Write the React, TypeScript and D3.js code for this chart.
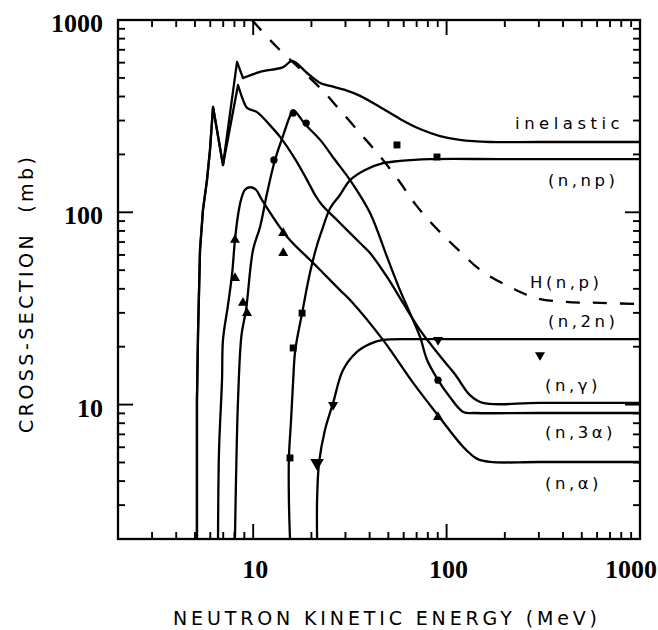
import React from "react";
import * as d3 from "d3";

type Pt = [number, number];

// ---------- data (energy MeV, cross-section mb) ----------
const majorTicks = [10, 100];
const minorTicks = [3, 4, 5, 6, 7, 8, 9, 20, 30, 40, 50, 60, 70, 80, 90, 200, 300, 400, 500, 600, 700, 800, 900];
const xTickLabels = [10, 100, 1000];
const yTickLabels = [10, 100, 1000];

const inelastic: Pt[] = [
  [5.12, 2.0], [5.12, 10.6], [5.19, 24.4], [5.31, 63.7], [5.5, 103], [5.77, 147], [5.98, 211],
  [6.2, 353], [6.98, 176], [8.25, 605], [8.86, 499], [10.85, 537], [14.3, 569], [15.9, 612],
  [19.0, 530], [22.2, 470], [25.0, 454], [29.8, 433], [35.7, 403], [45.2, 353], [57.4, 306],
  [72.9, 271], [92.5, 249], [117, 238], [168, 232], [300, 232], [1000, 232],
];

const nGamma: Pt[] = [
  [5.12, 2.0], [5.12, 10.6], [5.19, 24.4], [5.31, 63.7], [5.5, 103], [5.77, 147], [5.98, 211],
  [6.2, 353], [6.98, 176], [8.35, 459], [8.86, 384], [9.29, 349], [10.47, 332], [12.2, 284],
  [13.8, 246], [16.6, 187], [19.0, 147], [20.9, 123], [22.7, 109], [28.1, 88], [35.7, 69.2],
  [40.2, 61.4], [49.2, 46.1], [59.5, 33.8], [72.9, 24.4], [95.8, 17.1], [111, 14.3], [132, 11.2],
  [154, 10.2], [300, 10.2], [1000, 10.2],
];

const n3Alpha: Pt[] = [
  [8.05, 2.0], [8.15, 4.06], [8.35, 10.6], [8.7, 23.0], [9.18, 31.0], [9.98, 63.7], [10.85, 83.9],
  [11.8, 126], [12.96, 187], [14.3, 252], [15.5, 317], [16.1, 340], [18.5, 288], [22.2, 238],
  [26.5, 187], [31.7, 147], [40.2, 99.2], [49.2, 58.6], [57.4, 39.4], [64.7, 29.9], [72.9, 22.5],
  [79.2, 17.1], [89.2, 13.7], [104, 10.95], [122, 9.15], [140, 9.04], [300, 9.04], [1000, 9.04],
];

const nAlpha: Pt[] = [
  [6.58, 2.0], [6.66, 5.8], [6.9, 13.4], [6.98, 21.7], [7.41, 33.0], [7.77, 47.2], [8.05, 71.8],
  [8.35, 96.8], [8.65, 116], [9.07, 131], [9.63, 135], [10.34, 131], [11.1, 116], [15.0, 74.4],
  [19.7, 56.5], [22.2, 50.1], [28.1, 39.4], [31.7, 35.0], [46.9, 21.7], [67.0, 13.0], [92.5, 8.52],
  [122, 6.02], [144, 5.22], [168, 5.03], [300, 5.03], [1000, 5.03],
];

const nNp: Pt[] = [
  [15.5, 2.0], [15.3, 3.19], [15.3, 5.28], [15.7, 8.32], [16.1, 13.4], [16.5, 19.2], [17.9, 29.9],
  [19.7, 48.9], [21.4, 67.6], [22.7, 80.9], [25.0, 105], [28.1, 123], [31.7, 147], [37.9, 166],
  [46.9, 180], [57.4, 185], [82.1, 189], [200, 189], [1000, 189],
];

const n2n: Pt[] = [
  [21.4, 2.0], [21.4, 3.19], [21.9, 4.97], [23.5, 7.38], [25.9, 10.2], [29.1, 15.1], [34.4, 18.8],
  [40.2, 20.7], [46.9, 21.7], [72.9, 21.9], [200, 21.9], [1000, 21.9],
];

const hydrogenNp: Pt[] = [
  [9.86, 1000], [13.1, 732], [22.2, 443], [28.1, 340], [35.7, 258], [45.2, 196], [56.8, 145.5],
  [69.5, 109], [88.2, 82.9], [115, 63.7], [152, 49.5], [213, 40.9], [290, 35.8], [414, 34.2],
  [621, 33.8], [1000, 33.3],
];

const upTriangles: Pt[] = [[8.05, 71.8], [8.05, 45.5], [8.86, 33.8], [9.29, 29.9], [14.3, 78.0], [14.3, 61.4], [90.3, 8.62]];
const circles: Pt[] = [[12.8, 187], [16.1, 328], [18.8, 291], [90.3, 13.4]];
const squares: Pt[] = [[15.5, 5.28], [16.1, 19.7], [17.9, 29.9], [55.4, 224], [89.2, 194]];
const downTriangles: Pt[] = [[21.4, 4.97], [25.9, 9.95], [90.3, 21.7], [304, 18.1]];

const curveLabels: { text: string; at: Pt }[] = [
  { text: "inelastic", at: [226, 288] },
  { text: "(n,np)", at: [334, 147] },
  { text: "H(n,p)", at: [270, 42.9] },
  { text: "(n,2n)", at: [334, 26.9] },
  { text: "(n,\u03b3)", at: [323, 12.6] },
  { text: "(n,3\u03b1)", at: [323, 7.12] },
  { text: "(n,\u03b1)", at: [323, 3.91] },
];

// ---------- chart ----------
const W = 658;
const H = 630;
const L = 118, R = 640, T = 20, B = 539;

export default function App() {
  const x = d3.scaleLog().domain([2, 1000]).range([L, R]);
  const y = d3.scaleLog().domain([2, 1000]).range([B, T]);

  const smooth = d3.line<Pt>().x(d => x(d[0])).y(d => y(d[1])).curve(d3.curveCatmullRom.alpha(0.5));
  const lin = d3.line<Pt>().x(d => x(d[0])).y(d => y(d[1]));
  const pathFor = (pts: Pt[], sharpUntil: number) => {
    if (sharpUntil <= 0) return smooth(pts) || "";
    const a = lin(pts.slice(0, sharpUntil + 1)) || "";
    const b = (smooth(pts.slice(sharpUntil)) || "").replace(/^M/, "L");
    return a + b;
  };

  const series = [
    { data: inelastic, sharp: 10, dash: "" },
    { data: nGamma, sharp: 9, dash: "" },
    { data: n3Alpha, sharp: 0, dash: "" },
    { data: nAlpha, sharp: 0, dash: "" },
    { data: nNp, sharp: 0, dash: "" },
    { data: n2n, sharp: 0, dash: "" },
    { data: hydrogenNp, sharp: 0, dash: "14 13" },
  ];

  const triUp = d3.symbol().type(d3.symbolTriangle).size(44)() || "";
  const circ = d3.symbol().type(d3.symbolCircle).size(42)() || "";
  const sq = d3.symbol().type(d3.symbolSquare).size(48)() || "";

  const major = 15, minor = 7;
  const tickStroke = 1.9;

  return (
    <svg width={W} height={H} style={{ position: "absolute", left: 0, top: 0, background: "#fff" }}>
      <defs>
        <clipPath id="plot">
          <rect x={L} y={T} width={R - L} height={B - T} />
        </clipPath>
      </defs>
      <rect x={0} y={0} width={W} height={H} fill="#fff" />

      {/* ticks */}
      <g stroke="#000" strokeWidth={tickStroke}>
        {minorTicks.map(v => (
          <g key={"mx" + v}>
            <line x1={x(v)} x2={x(v)} y1={B} y2={B - minor} />
            <line x1={x(v)} x2={x(v)} y1={T} y2={T + minor} />
            <line x1={L} x2={L + minor} y1={y(v)} y2={y(v)} />
            <line x1={R} x2={R - minor} y1={y(v)} y2={y(v)} />
          </g>
        ))}
        {majorTicks.map(v => (
          <g key={"Mx" + v}>
            <line x1={x(v)} x2={x(v)} y1={B} y2={B - major} />
            <line x1={x(v)} x2={x(v)} y1={T} y2={T + major} />
            <line x1={L} x2={L + major} y1={y(v)} y2={y(v)} />
            <line x1={R} x2={R - major} y1={y(v)} y2={y(v)} />
          </g>
        ))}
      </g>

      {/* frame */}
      <rect x={L} y={T} width={R - L} height={B - T} fill="none" stroke="#000" strokeWidth={2.3} />

      {/* curves */}
      <g clipPath="url(#plot)" fill="none" stroke="#000" strokeWidth={2.3} strokeLinejoin="round">
        {series.map((s, i) => (
          <path key={i} d={pathFor(s.data, s.sharp)} strokeDasharray={s.dash || undefined} />
        ))}
      </g>

      {/* markers */}
      <g fill="#000">
        {upTriangles.map((d, i) => (
          <path key={"t" + i} d={triUp} transform={`translate(${x(d[0])},${y(d[1])})`} />
        ))}
        {downTriangles.map((d, i) => (
          <path key={"d" + i} d={triUp} transform={`translate(${x(d[0])},${y(d[1])}) rotate(180) scale(${i === 0 ? 1.35 : 1})`} />
        ))}
        {circles.map((d, i) => (
          <path key={"c" + i} d={circ} transform={`translate(${x(d[0])},${y(d[1])})`} />
        ))}
        {squares.map((d, i) => (
          <path key={"s" + i} d={sq} transform={`translate(${x(d[0])},${y(d[1])})`} />
        ))}
      </g>

      {/* tick labels */}
      <g fontFamily="'Liberation Serif', 'Times New Roman', serif" fontWeight="bold" fontSize={26} fill="#000">
        {xTickLabels.map((v, i) => (
          <text key={"xl" + v} x={x(v) + (i === xTickLabels.length - 1 ? -9 : 2)} y={578} textAnchor="middle">
            {String(v)}
          </text>
        ))}
        {yTickLabels.map(v => (
          <text key={"yl" + v} x={103} y={y(v) + 12} textAnchor="end">
            {String(v)}
          </text>
        ))}
      </g>

      {/* curve labels */}
      <g fontFamily="'DejaVu Sans', sans-serif" fontSize={16.5} fill="#000" style={{ letterSpacing: "3.5px" }}>
        {curveLabels.map(l => (
          <text key={l.text} x={x(l.at[0])} y={y(l.at[1])} dominantBaseline="central"
            style={l.text === "inelastic" ? { letterSpacing: "4.5px" } : undefined}>
            {l.text}
          </text>
        ))}
      </g>

      {/* axis titles */}
      <text x={173} y={625} fontFamily="'DejaVu Sans', sans-serif" fontSize={19} textLength={424} lengthAdjust="spacing" fill="#000">
        NEUTRON KINETIC ENERGY (MeV)
      </text>
      <text
        transform="translate(26,295) rotate(-90)"
        x={-138}
        y={0}
        dominantBaseline="central"
        fontFamily="'DejaVu Sans', sans-serif"
        fontSize={19}
        textLength={276}
        lengthAdjust="spacing"
        fill="#000"
        style={{ whiteSpace: "pre" }}
      >
        {"CROSS-SECTION  (mb)"}
      </text>
    </svg>
  );
}
